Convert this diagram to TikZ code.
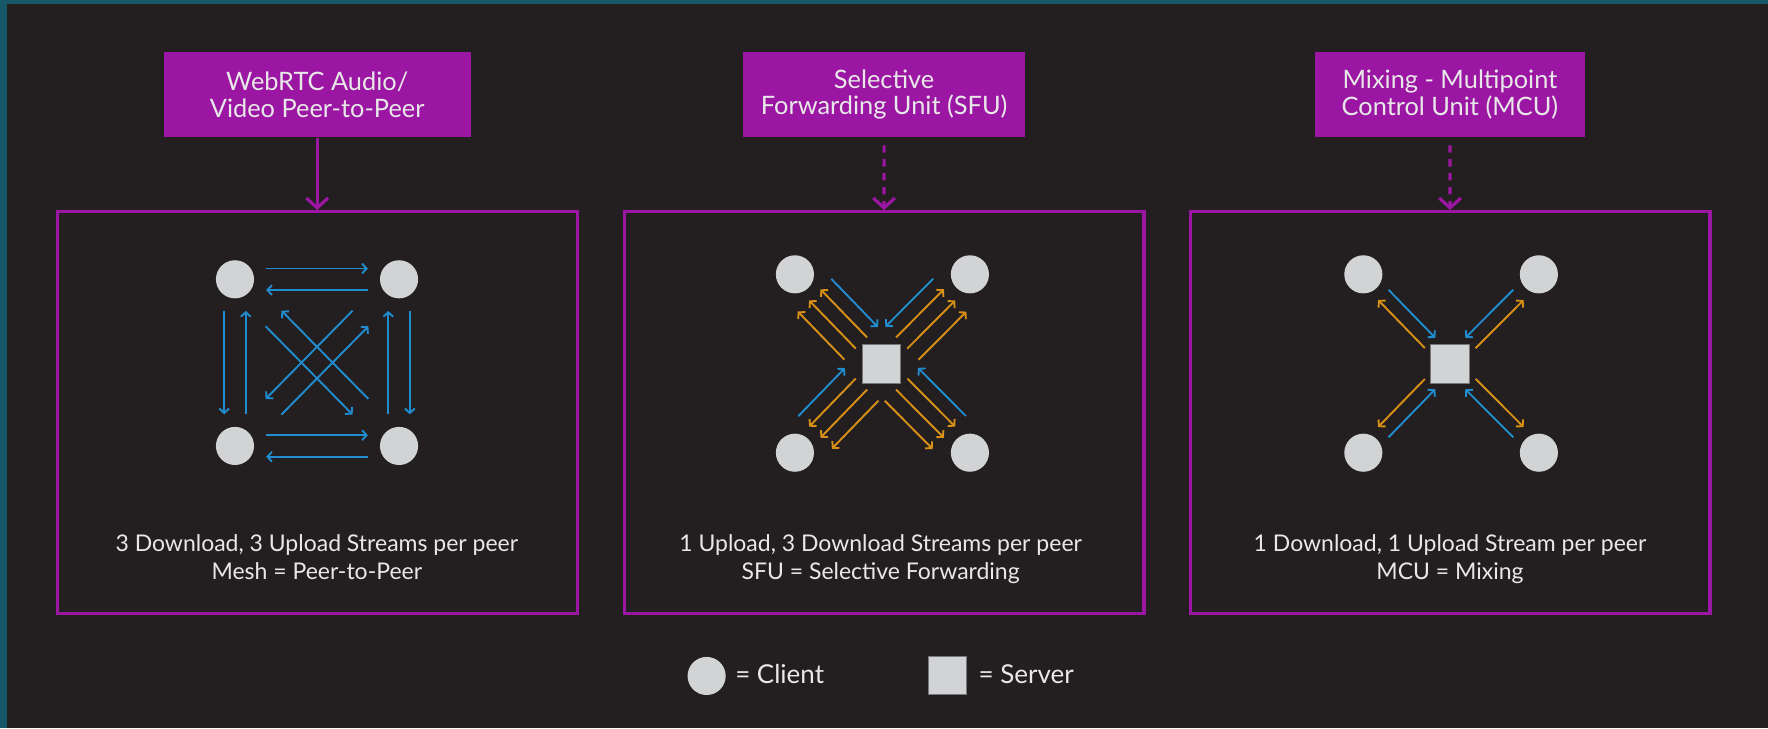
\documentclass[tikz,border=0pt]{standalone}
\usepackage{fontspec}
\setmainfont{Lato}
\usetikzlibrary{arrows.meta, calc}

\definecolor{bgdark}{RGB}{35,31,32}
\definecolor{tealedge}{RGB}{22,88,104}
\definecolor{boxpurple}{RGB}{156,22,164}
\definecolor{nodegray}{RGB}{209,211,212}
\definecolor{servergray}{RGB}{120,120,122}
\definecolor{streamblue}{RGB}{33,140,206}
\definecolor{streamorange}{RGB}{216,144,22}
\definecolor{textgray}{RGB}{232,232,232}

\tikzset{
  client/.style={circle, fill=nodegray, minimum size=0.845cm, inner sep=0},
  server/.style={rectangle, fill=nodegray, draw=servergray, line width=0.5pt, minimum size=0.86cm, inner sep=0},
  titlebox/.style={fill=boxpurple, text=textgray, align=center, minimum height=1.9cm, inner sep=0,
    font=\fontsize{16}{16.9}\selectfont},
  panel/.style={draw=boxpurple, line width=2pt, minimum width=11.525cm, minimum height=8.905cm, inner sep=0},
  caption/.style={text=textgray, align=center, font=\fontsize{14.5}{17.5}\selectfont},
  legendtext/.style={text=textgray, font=\fontsize{16.4}{20}\selectfont, inner sep=0},
  titlearrow/.style={draw=boxpurple, line width=2pt, -{Straight Barb[length=2.2mm, width=4.8mm]}},
  bluestream/.style={draw=streamblue, line width=1.2pt, -{Straight Barb[length=1mm, width=2.2mm]}},
  orangestream/.style={draw=streamorange, line width=1.2pt, {Straight Barb[length=1mm, width=2.2mm]}-},
}

\begin{document}
\begin{tikzpicture}[x=2.5cm, y=2.5cm]
\useasboundingbox (0,0) rectangle (15.68,6.46);
\fill[bgdark] (0,0) rectangle (15.68,6.46);
\fill[tealedge] (0,0) rectangle (0.06,6.46);
\fill[tealedge] (0,6.425) rectangle (15.68,6.46);
% Titles and panels
\node[titlebox, minimum width=6.8cm] (t1) at (2.813,5.622) {WebRTC Audio/\\Video Peer-to-Peer};
\node[titlebox, minimum width=6.25cm] (t2) at (7.841,5.622) {Selective\\Forwarding Unit (SFU)};
\node[titlebox, minimum width=5.985cm] (t3) at (12.859,5.622) {Mixing - Multipoint\\Control Unit (MCU)};
\node[panel] (p1) at (2.813,2.802) {};
\node[panel] (p2) at (7.840,2.802) {};
\node[panel] (p3) at (12.860,2.802) {};
\draw[titlearrow] (t1.south) -- (p1.north);
\draw[titlearrow, dash pattern=on 4.6pt off 4.2pt, shorten <=4.8pt] (t2.south) -- (p2.north);
\draw[titlearrow, dash pattern=on 4.6pt off 4.2pt, shorten <=4.8pt] (t3.south) -- (p3.north);
% Mesh
\node[client] (m1) at (2.084,3.983) {};
\node[client] (m2) at (3.539,3.983) {};
\node[client] (m3) at (2.084,2.505) {};
\node[client] (m4) at (3.539,2.505) {};
\draw[bluestream] ($(m1)!0.19!(m2)!6.8pt!90:(m2)$) -- ($(m1)!0.81!(m2)!6.8pt!90:(m2)$);
\draw[bluestream] ($(m2)!0.19!(m1)!6.8pt!90:(m1)$) -- ($(m2)!0.81!(m1)!6.8pt!90:(m1)$);
\draw[bluestream] ($(m3)!0.19!(m4)!6.8pt!90:(m4)$) -- ($(m3)!0.81!(m4)!6.8pt!90:(m4)$);
\draw[bluestream] ($(m4)!0.19!(m3)!6.8pt!90:(m3)$) -- ($(m4)!0.81!(m3)!6.8pt!90:(m3)$);
\draw[bluestream] ($(m1)!0.19!(m3)!-6.8pt!90:(m3)$) -- ($(m1)!0.81!(m3)!-6.8pt!90:(m3)$);
\draw[bluestream] ($(m3)!0.19!(m1)!-6.8pt!90:(m1)$) -- ($(m3)!0.81!(m1)!-6.8pt!90:(m1)$);
\draw[bluestream] ($(m4)!0.19!(m2)!6.8pt!90:(m2)$) -- ($(m4)!0.81!(m2)!6.8pt!90:(m2)$);
\draw[bluestream] ($(m2)!0.19!(m4)!6.8pt!90:(m4)$) -- ($(m2)!0.81!(m4)!6.8pt!90:(m4)$);
\draw[bluestream] ($(m1)!0.235!(m4)!-7pt!90:(m4)$) -- ($(m1)!0.765!(m4)!-7pt!90:(m4)$);
\draw[bluestream] ($(m4)!0.235!(m1)!-7pt!90:(m1)$) -- ($(m4)!0.765!(m1)!-7pt!90:(m1)$);
\draw[bluestream] ($(m2)!0.235!(m3)!-7pt!90:(m3)$) -- ($(m2)!0.765!(m3)!-7pt!90:(m3)$);
\draw[bluestream] ($(m3)!0.235!(m2)!-7pt!90:(m2)$) -- ($(m3)!0.765!(m2)!-7pt!90:(m2)$);
% SFU
\node[client] (s1) at (7.050,4.027) {};
\node[client] (s2) at (8.602,4.027) {};
\node[client] (s3) at (7.050,2.445) {};
\node[client] (s4) at (8.602,2.445) {};
\node[server] (sfu) at (7.816,3.236) {};
\draw[bluestream] ($(s1)!0.23!(sfu)!14.5pt!90:(sfu)$) -- ($(s1)!0.77!(sfu)!14.5pt!90:(sfu)$);
\draw[orangestream] ($(s1)!0.23!(sfu)!5pt!90:(sfu)$) -- ($(s1)!0.77!(sfu)!5pt!90:(sfu)$);
\draw[orangestream] ($(s1)!0.23!(sfu)!-5pt!90:(sfu)$) -- ($(s1)!0.77!(sfu)!-5pt!90:(sfu)$);
\draw[orangestream] ($(s1)!0.23!(sfu)!-15pt!90:(sfu)$) -- ($(s1)!0.77!(sfu)!-15pt!90:(sfu)$);
\draw[bluestream] ($(s2)!0.23!(sfu)!-14.5pt!90:(sfu)$) -- ($(s2)!0.77!(sfu)!-14.5pt!90:(sfu)$);
\draw[orangestream] ($(s2)!0.23!(sfu)!-5pt!90:(sfu)$) -- ($(s2)!0.77!(sfu)!-5pt!90:(sfu)$);
\draw[orangestream] ($(s2)!0.23!(sfu)!5pt!90:(sfu)$) -- ($(s2)!0.77!(sfu)!5pt!90:(sfu)$);
\draw[orangestream] ($(s2)!0.23!(sfu)!15pt!90:(sfu)$) -- ($(s2)!0.77!(sfu)!15pt!90:(sfu)$);
\draw[bluestream] ($(s3)!0.23!(sfu)!14.5pt!90:(sfu)$) -- ($(s3)!0.77!(sfu)!14.5pt!90:(sfu)$);
\draw[orangestream] ($(s3)!0.23!(sfu)!5pt!90:(sfu)$) -- ($(s3)!0.77!(sfu)!5pt!90:(sfu)$);
\draw[orangestream] ($(s3)!0.23!(sfu)!-5pt!90:(sfu)$) -- ($(s3)!0.77!(sfu)!-5pt!90:(sfu)$);
\draw[orangestream] ($(s3)!0.23!(sfu)!-15pt!90:(sfu)$) -- ($(s3)!0.77!(sfu)!-15pt!90:(sfu)$);
\draw[bluestream] ($(s4)!0.23!(sfu)!-14.5pt!90:(sfu)$) -- ($(s4)!0.77!(sfu)!-14.5pt!90:(sfu)$);
\draw[orangestream] ($(s4)!0.23!(sfu)!-5pt!90:(sfu)$) -- ($(s4)!0.77!(sfu)!-5pt!90:(sfu)$);
\draw[orangestream] ($(s4)!0.23!(sfu)!5pt!90:(sfu)$) -- ($(s4)!0.77!(sfu)!5pt!90:(sfu)$);
\draw[orangestream] ($(s4)!0.23!(sfu)!15pt!90:(sfu)$) -- ($(s4)!0.77!(sfu)!15pt!90:(sfu)$);
% MCU
\node[client] (x1) at (12.091,4.027) {};
\node[client] (x2) at (13.648,4.027) {};
\node[client] (x3) at (12.091,2.445) {};
\node[client] (x4) at (13.648,2.445) {};
\node[server] (mcu) at (12.860,3.236) {};
\draw[bluestream] ($(x1)!0.23!(mcu)!4.6pt!90:(mcu)$) -- ($(x1)!0.77!(mcu)!4.6pt!90:(mcu)$);
\draw[orangestream] ($(x1)!0.23!(mcu)!-4.6pt!90:(mcu)$) -- ($(x1)!0.77!(mcu)!-4.6pt!90:(mcu)$);
\draw[bluestream] ($(x2)!0.23!(mcu)!-4.6pt!90:(mcu)$) -- ($(x2)!0.77!(mcu)!-4.6pt!90:(mcu)$);
\draw[orangestream] ($(x2)!0.23!(mcu)!4.6pt!90:(mcu)$) -- ($(x2)!0.77!(mcu)!4.6pt!90:(mcu)$);
\draw[bluestream] ($(x3)!0.23!(mcu)!-4.6pt!90:(mcu)$) -- ($(x3)!0.77!(mcu)!-4.6pt!90:(mcu)$);
\draw[orangestream] ($(x3)!0.23!(mcu)!4.6pt!90:(mcu)$) -- ($(x3)!0.77!(mcu)!4.6pt!90:(mcu)$);
\draw[bluestream] ($(x4)!0.23!(mcu)!4.6pt!90:(mcu)$) -- ($(x4)!0.77!(mcu)!4.6pt!90:(mcu)$);
\draw[orangestream] ($(x4)!0.23!(mcu)!-4.6pt!90:(mcu)$) -- ($(x4)!0.77!(mcu)!-4.6pt!90:(mcu)$);
% Captions
\node[caption, anchor=base] (cap1) at (2.81,1.322) {3 Download, 3 Upload Streams per peer\\Mesh = Peer-to-Peer};
\node[caption, anchor=base] (cap2) at (7.81,1.322) {1 Upload, 3 Download Streams per peer\\SFU = Selective Forwarding};
\node[caption, anchor=base] (cap3) at (12.86,1.322) {1 Download, 1 Upload Stream per peer\\MCU = Mixing};
% Legend
\node[client] (lgc) at (6.267,0.465) {};
\node[legendtext, anchor=base west] (lgct) at (6.518,0.394) {= Client};
\node[server, minimum size=0.85cm] (lgs) at (8.400,0.469) {};
\node[legendtext, anchor=base west] (lgst) at (8.676,0.394) {= Server};
\end{tikzpicture}
\end{document}
